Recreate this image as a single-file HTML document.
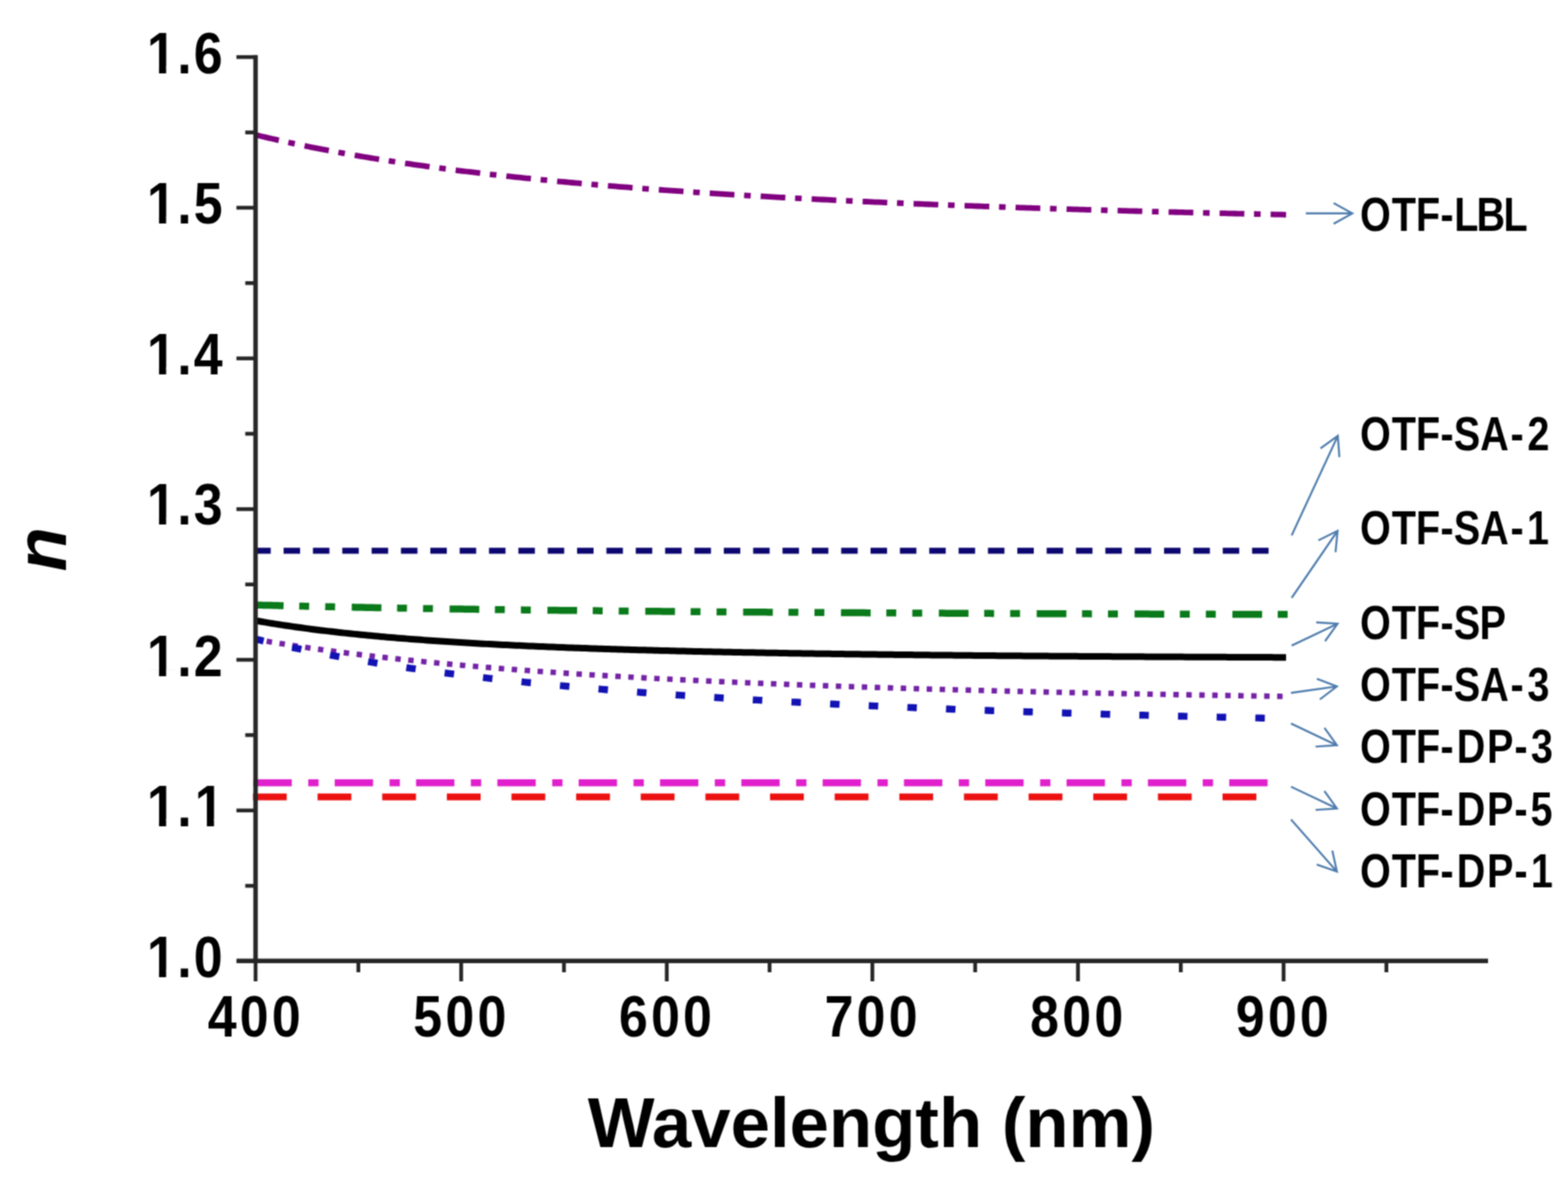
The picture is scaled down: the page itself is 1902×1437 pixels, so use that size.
<!DOCTYPE html>
<html><head><meta charset="utf-8"><title>Refractive index n versus wavelength</title>
<style>
html,body{margin:0;padding:0;background:#fff;}
svg{display:block;}
.tk{font-family:"Liberation Sans",Arial,sans-serif;font-weight:bold;font-size:70px;fill:#000;}
.ttl{font-family:"Liberation Sans",Arial,sans-serif;font-weight:bold;font-size:85.75px;fill:#000;}
.yt{font-family:"Liberation Sans",Arial,sans-serif;font-weight:bold;font-style:italic;font-size:88px;fill:#000;}
.lb{font-family:"Liberation Sans",Arial,sans-serif;font-weight:bold;font-size:56.5px;fill:#000;}
</style></head>
<body>
<svg width="1902" height="1437" viewBox="0 0 1902 1437">
<defs><filter id="soft" x="0" y="0" width="1" height="1" filterUnits="objectBoundingBox" color-interpolation-filters="sRGB"><feConvolveMatrix order="3" kernelMatrix="1 2 1 2 4 2 1 2 1" divisor="16" edgeMode="duplicate"/></filter></defs>
<rect width="1902" height="1437" fill="#fff"/>
<g filter="url(#soft)">
<rect width="1902" height="1437" fill="#fff"/>
<path d="M310.0,163.52 L314.0,164.49 L318.0,165.45 L322.0,166.40 L326.0,167.33 L330.0,168.26 L334.0,169.17 L338.0,170.08 L342.0,170.97 L346.0,171.85 L350.0,172.73 L354.0,173.59 L358.0,174.44 L362.0,175.28 L366.0,176.12 L370.0,176.94 L374.0,177.75 L378.0,178.56 L382.0,179.35 L386.0,180.14 L390.0,180.91 L394.0,181.68 L398.0,182.44 L402.0,183.19 L406.0,183.94 L410.0,184.67 L414.0,185.40 L418.0,186.12 L422.0,186.83 L426.0,187.53 L430.0,188.22 L434.0,188.91 L438.0,189.59 L442.0,190.27 L446.0,190.93 L450.0,191.59 L454.0,192.24 L458.0,192.89 L462.0,193.52 L466.0,194.16 L470.0,194.78 L474.0,195.40 L478.0,196.01 L482.0,196.61 L486.0,197.21 L490.0,197.81 L494.0,198.39 L498.0,198.97 L502.0,199.55 L506.0,200.12 L510.0,200.68 L514.0,201.24 L518.0,201.79 L522.0,202.34 L526.0,202.88 L530.0,203.41 L534.0,203.94 L538.0,204.47 L542.0,204.99 L546.0,205.50 L550.0,206.01 L554.0,206.52 L558.0,207.02 L562.0,207.51 L566.0,208.00 L570.0,208.49 L574.0,208.97 L578.0,209.44 L582.0,209.92 L586.0,210.38 L590.0,210.85 L594.0,211.30 L598.0,211.76 L602.0,212.21 L606.0,212.65 L610.0,213.09 L614.0,213.53 L618.0,213.96 L622.0,214.39 L626.0,214.82 L630.0,215.24 L634.0,215.66 L638.0,216.07 L642.0,216.48 L646.0,216.89 L650.0,217.29 L654.0,217.69 L658.0,218.08 L662.0,218.47 L666.0,218.86 L670.0,219.25 L674.0,219.63 L678.0,220.01 L682.0,220.38 L686.0,220.75 L690.0,221.12 L694.0,221.49 L698.0,221.85 L702.0,222.21 L706.0,222.56 L710.0,222.91 L714.0,223.26 L718.0,223.61 L722.0,223.95 L726.0,224.29 L730.0,224.63 L734.0,224.96 L738.0,225.30 L742.0,225.62 L746.0,225.95 L750.0,226.27 L754.0,226.59 L758.0,226.91 L762.0,227.23 L766.0,227.54 L770.0,227.85 L774.0,228.16 L778.0,228.46 L782.0,228.77 L786.0,229.07 L790.0,229.36 L794.0,229.66 L798.0,229.95 L802.0,230.24 L806.0,230.53 L810.0,230.82 L814.0,231.10 L818.0,231.38 L822.0,231.66 L826.0,231.94 L830.0,232.21 L834.0,232.48 L838.0,232.75 L842.0,233.02 L846.0,233.29 L850.0,233.55 L854.0,233.81 L858.0,234.07 L862.0,234.33 L866.0,234.58 L870.0,234.84 L874.0,235.09 L878.0,235.34 L882.0,235.59 L886.0,235.83 L890.0,236.08 L894.0,236.32 L898.0,236.56 L902.0,236.80 L906.0,237.04 L910.0,237.27 L914.0,237.50 L918.0,237.73 L922.0,237.96 L926.0,238.19 L930.0,238.42 L934.0,238.64 L938.0,238.87 L942.0,239.09 L946.0,239.31 L950.0,239.52 L954.0,239.74 L958.0,239.96 L962.0,240.17 L966.0,240.38 L970.0,240.59 L974.0,240.80 L978.0,241.01 L982.0,241.21 L986.0,241.42 L990.0,241.62 L994.0,241.82 L998.0,242.02 L1002.0,242.22 L1006.0,242.41 L1010.0,242.61 L1014.0,242.80 L1018.0,243.00 L1022.0,243.19 L1026.0,243.38 L1030.0,243.57 L1034.0,243.75 L1038.0,243.94 L1042.0,244.13 L1046.0,244.31 L1050.0,244.49 L1054.0,244.67 L1058.0,244.85 L1062.0,245.03 L1066.0,245.21 L1070.0,245.38 L1074.0,245.56 L1078.0,245.73 L1082.0,245.90 L1086.0,246.08 L1090.0,246.25 L1094.0,246.41 L1098.0,246.58 L1102.0,246.75 L1106.0,246.91 L1110.0,247.08 L1114.0,247.24 L1118.0,247.40 L1122.0,247.57 L1126.0,247.73 L1130.0,247.89 L1134.0,248.04 L1138.0,248.20 L1142.0,248.36 L1146.0,248.51 L1150.0,248.66 L1154.0,248.82 L1158.0,248.97 L1162.0,249.12 L1166.0,249.27 L1170.0,249.42 L1174.0,249.57 L1178.0,249.71 L1182.0,249.86 L1186.0,250.01 L1190.0,250.15 L1194.0,250.29 L1198.0,250.44 L1202.0,250.58 L1206.0,250.72 L1210.0,250.86 L1214.0,251.00 L1218.0,251.13 L1222.0,251.27 L1226.0,251.41 L1230.0,251.54 L1234.0,251.68 L1238.0,251.81 L1242.0,251.94 L1246.0,252.07 L1250.0,252.21 L1254.0,252.34 L1258.0,252.47 L1262.0,252.59 L1266.0,252.72 L1270.0,252.85 L1274.0,252.98 L1278.0,253.10 L1282.0,253.23 L1286.0,253.35 L1290.0,253.47 L1294.0,253.60 L1298.0,253.72 L1302.0,253.84 L1306.0,253.96 L1310.0,254.08 L1314.0,254.20 L1318.0,254.32 L1322.0,254.43 L1326.0,254.55 L1330.0,254.67 L1334.0,254.78 L1338.0,254.90 L1342.0,255.01 L1346.0,255.12 L1350.0,255.24 L1354.0,255.35 L1358.0,255.46 L1362.0,255.57 L1366.0,255.68 L1370.0,255.79 L1374.0,255.90 L1378.0,256.01 L1382.0,256.11 L1386.0,256.22 L1390.0,256.33 L1394.0,256.43 L1398.0,256.54 L1402.0,256.64 L1406.0,256.75 L1410.0,256.85 L1414.0,256.95 L1418.0,257.05 L1422.0,257.15 L1426.0,257.26 L1430.0,257.36 L1434.0,257.46 L1438.0,257.55 L1442.0,257.65 L1446.0,257.75 L1450.0,257.85 L1454.0,257.95 L1458.0,258.04 L1462.0,258.14 L1466.0,258.23 L1470.0,258.33 L1474.0,258.42 L1478.0,258.52 L1482.0,258.61 L1486.0,258.70 L1490.0,258.79 L1494.0,258.89 L1498.0,258.98 L1502.0,259.07 L1506.0,259.16 L1510.0,259.25 L1514.0,259.34 L1518.0,259.43 L1522.0,259.51 L1526.0,259.60 L1530.0,259.69 L1534.0,259.78 L1538.0,259.86 L1542.0,259.95 L1546.0,260.03 L1550.0,260.12 L1554.0,260.20 L1558.0,260.29 L1560.0,260.33" fill="none" stroke="#800080" stroke-width="6.8" stroke-linejoin="round" stroke-dasharray="30 11.8 8 12.1" stroke-dashoffset="1.0"/>
<path d="M308.4,667.80 L1539.0,667.80" fill="none" stroke="#0c0670" stroke-width="7.2" stroke-linejoin="round" stroke-dasharray="20 15.6" stroke-dashoffset="0"/>
<path d="M308.0,733.58 L312.0,733.69 L316.0,733.80 L320.0,733.90 L324.0,734.01 L328.0,734.11 L332.0,734.21 L336.0,734.31 L340.0,734.41 L344.0,734.51 L348.0,734.61 L352.0,734.70 L356.0,734.80 L360.0,734.89 L364.0,734.99 L368.0,735.08 L372.0,735.17 L376.0,735.26 L380.0,735.35 L384.0,735.44 L388.0,735.53 L392.0,735.62 L396.0,735.70 L400.0,735.79 L404.0,735.87 L408.0,735.96 L412.0,736.04 L416.0,736.12 L420.0,736.20 L424.0,736.28 L428.0,736.36 L432.0,736.44 L436.0,736.52 L440.0,736.60 L444.0,736.67 L448.0,736.75 L452.0,736.82 L456.0,736.90 L460.0,736.97 L464.0,737.05 L468.0,737.12 L472.0,737.19 L476.0,737.26 L480.0,737.33 L484.0,737.40 L488.0,737.47 L492.0,737.54 L496.0,737.61 L500.0,737.67 L504.0,737.74 L508.0,737.80 L512.0,737.87 L516.0,737.93 L520.0,738.00 L524.0,738.06 L528.0,738.12 L532.0,738.19 L536.0,738.25 L540.0,738.31 L544.0,738.37 L548.0,738.43 L552.0,738.49 L556.0,738.55 L560.0,738.61 L564.0,738.67 L568.0,738.72 L572.0,738.78 L576.0,738.84 L580.0,738.89 L584.0,738.95 L588.0,739.00 L592.0,739.06 L596.0,739.11 L600.0,739.16 L604.0,739.22 L608.0,739.27 L612.0,739.32 L616.0,739.37 L620.0,739.43 L624.0,739.48 L628.0,739.53 L632.0,739.58 L636.0,739.63 L640.0,739.68 L644.0,739.72 L648.0,739.77 L652.0,739.82 L656.0,739.87 L660.0,739.92 L664.0,739.96 L668.0,740.01 L672.0,740.05 L676.0,740.10 L680.0,740.14 L684.0,740.19 L688.0,740.23 L692.0,740.28 L696.0,740.32 L700.0,740.36 L704.0,740.41 L708.0,740.45 L712.0,740.49 L716.0,740.53 L720.0,740.58 L724.0,740.62 L728.0,740.66 L732.0,740.70 L736.0,740.74 L740.0,740.78 L744.0,740.82 L748.0,740.86 L752.0,740.90 L756.0,740.94 L760.0,740.97 L764.0,741.01 L768.0,741.05 L772.0,741.09 L776.0,741.13 L780.0,741.16 L784.0,741.20 L788.0,741.24 L792.0,741.27 L796.0,741.31 L800.0,741.34 L804.0,741.38 L808.0,741.41 L812.0,741.45 L816.0,741.48 L820.0,741.52 L824.0,741.55 L828.0,741.58 L832.0,741.62 L836.0,741.65 L840.0,741.68 L844.0,741.72 L848.0,741.75 L852.0,741.78 L856.0,741.81 L860.0,741.85 L864.0,741.88 L868.0,741.91 L872.0,741.94 L876.0,741.97 L880.0,742.00 L884.0,742.03 L888.0,742.06 L892.0,742.09 L896.0,742.12 L900.0,742.15 L904.0,742.18 L908.0,742.21 L912.0,742.24 L916.0,742.27 L920.0,742.29 L924.0,742.32 L928.0,742.35 L932.0,742.38 L936.0,742.41 L940.0,742.43 L944.0,742.46 L948.0,742.49 L952.0,742.51 L956.0,742.54 L960.0,742.57 L964.0,742.59 L968.0,742.62 L972.0,742.65 L976.0,742.67 L980.0,742.70 L984.0,742.72 L988.0,742.75 L992.0,742.77 L996.0,742.80 L1000.0,742.82 L1004.0,742.85 L1008.0,742.87 L1012.0,742.90 L1016.0,742.92 L1020.0,742.94 L1024.0,742.97 L1028.0,742.99 L1032.0,743.01 L1036.0,743.04 L1040.0,743.06 L1044.0,743.08 L1048.0,743.11 L1052.0,743.13 L1056.0,743.15 L1060.0,743.17 L1064.0,743.20 L1068.0,743.22 L1072.0,743.24 L1076.0,743.26 L1080.0,743.28 L1084.0,743.31 L1088.0,743.33 L1092.0,743.35 L1096.0,743.37 L1100.0,743.39 L1104.0,743.41 L1108.0,743.43 L1112.0,743.45 L1116.0,743.47 L1120.0,743.49 L1124.0,743.51 L1128.0,743.53 L1132.0,743.55 L1136.0,743.57 L1140.0,743.59 L1144.0,743.61 L1148.0,743.63 L1152.0,743.65 L1156.0,743.67 L1160.0,743.69 L1164.0,743.71 L1168.0,743.73 L1172.0,743.74 L1176.0,743.76 L1180.0,743.78 L1184.0,743.80 L1188.0,743.82 L1192.0,743.84 L1196.0,743.85 L1200.0,743.87 L1204.0,743.89 L1208.0,743.91 L1212.0,743.92 L1216.0,743.94 L1220.0,743.96 L1224.0,743.98 L1228.0,743.99 L1232.0,744.01 L1236.0,744.03 L1240.0,744.04 L1244.0,744.06 L1248.0,744.08 L1252.0,744.09 L1256.0,744.11 L1260.0,744.13 L1264.0,744.14 L1268.0,744.16 L1272.0,744.18 L1276.0,744.19 L1280.0,744.21 L1284.0,744.22 L1288.0,744.24 L1292.0,744.25 L1296.0,744.27 L1300.0,744.28 L1304.0,744.30 L1308.0,744.32 L1312.0,744.33 L1316.0,744.35 L1320.0,744.36 L1324.0,744.38 L1328.0,744.39 L1332.0,744.40 L1336.0,744.42 L1340.0,744.43 L1344.0,744.45 L1348.0,744.46 L1352.0,744.48 L1356.0,744.49 L1360.0,744.50 L1364.0,744.52 L1368.0,744.53 L1372.0,744.55 L1376.0,744.56 L1380.0,744.57 L1384.0,744.59 L1388.0,744.60 L1392.0,744.61 L1396.0,744.63 L1400.0,744.64 L1404.0,744.65 L1408.0,744.67 L1412.0,744.68 L1416.0,744.69 L1420.0,744.71 L1424.0,744.72 L1428.0,744.73 L1432.0,744.75 L1436.0,744.76 L1440.0,744.77 L1444.0,744.78 L1448.0,744.80 L1452.0,744.81 L1456.0,744.82 L1460.0,744.83 L1464.0,744.84 L1468.0,744.86 L1472.0,744.87 L1476.0,744.88 L1480.0,744.89 L1484.0,744.90 L1488.0,744.92 L1492.0,744.93 L1496.0,744.94 L1500.0,744.95 L1504.0,744.96 L1508.0,744.97 L1512.0,744.99 L1516.0,745.00 L1520.0,745.01 L1524.0,745.02 L1528.0,745.03 L1532.0,745.04 L1536.0,745.05 L1540.0,745.06 L1544.0,745.07 L1548.0,745.09 L1552.0,745.10 L1556.0,745.11 L1560.0,745.12 L1562.0,745.12" fill="none" stroke="#0a7a1a" stroke-width="8.5" stroke-linejoin="round" stroke-dasharray="36 19 12 19.5 12 20.2" stroke-dashoffset="0"/>
<path d="M310.0,752.61 L314.0,753.31 L318.0,754.00 L322.0,754.68 L326.0,755.34 L330.0,755.99 L334.0,756.63 L338.0,757.25 L342.0,757.87 L346.0,758.47 L350.0,759.06 L354.0,759.64 L358.0,760.21 L362.0,760.77 L366.0,761.32 L370.0,761.86 L374.0,762.39 L378.0,762.91 L382.0,763.42 L386.0,763.92 L390.0,764.41 L394.0,764.89 L398.0,765.37 L402.0,765.83 L406.0,766.29 L410.0,766.74 L414.0,767.19 L418.0,767.62 L422.0,768.05 L426.0,768.47 L430.0,768.88 L434.0,769.29 L438.0,769.69 L442.0,770.08 L446.0,770.46 L450.0,770.84 L454.0,771.21 L458.0,771.58 L462.0,771.94 L466.0,772.30 L470.0,772.64 L474.0,772.99 L478.0,773.32 L482.0,773.65 L486.0,773.98 L490.0,774.30 L494.0,774.62 L498.0,774.93 L502.0,775.23 L506.0,775.53 L510.0,775.83 L514.0,776.12 L518.0,776.41 L522.0,776.69 L526.0,776.97 L530.0,777.24 L534.0,777.51 L538.0,777.77 L542.0,778.04 L546.0,778.29 L550.0,778.54 L554.0,778.79 L558.0,779.04 L562.0,779.28 L566.0,779.52 L570.0,779.75 L574.0,779.98 L578.0,780.21 L582.0,780.43 L586.0,780.65 L590.0,780.87 L594.0,781.08 L598.0,781.29 L602.0,781.50 L606.0,781.71 L610.0,781.91 L614.0,782.11 L618.0,782.30 L622.0,782.50 L626.0,782.69 L630.0,782.87 L634.0,783.06 L638.0,783.24 L642.0,783.42 L646.0,783.60 L650.0,783.77 L654.0,783.94 L658.0,784.11 L662.0,784.28 L666.0,784.44 L670.0,784.61 L674.0,784.77 L678.0,784.92 L682.0,785.08 L686.0,785.23 L690.0,785.39 L694.0,785.54 L698.0,785.68 L702.0,785.83 L706.0,785.97 L710.0,786.11 L714.0,786.25 L718.0,786.39 L722.0,786.53 L726.0,786.66 L730.0,786.79 L734.0,786.92 L738.0,787.05 L742.0,787.18 L746.0,787.31 L750.0,787.43 L754.0,787.55 L758.0,787.67 L762.0,787.79 L766.0,787.91 L770.0,788.03 L774.0,788.14 L778.0,788.25 L782.0,788.36 L786.0,788.47 L790.0,788.58 L794.0,788.69 L798.0,788.80 L802.0,788.90 L806.0,789.01 L810.0,789.11 L814.0,789.21 L818.0,789.31 L822.0,789.41 L826.0,789.50 L830.0,789.60 L834.0,789.69 L838.0,789.79 L842.0,789.88 L846.0,789.97 L850.0,790.06 L854.0,790.15 L858.0,790.24 L862.0,790.33 L866.0,790.41 L870.0,790.50 L874.0,790.58 L878.0,790.66 L882.0,790.75 L886.0,790.83 L890.0,790.91 L894.0,790.99 L898.0,791.06 L902.0,791.14 L906.0,791.22 L910.0,791.29 L914.0,791.37 L918.0,791.44 L922.0,791.52 L926.0,791.59 L930.0,791.66 L934.0,791.73 L938.0,791.80 L942.0,791.87 L946.0,791.94 L950.0,792.00 L954.0,792.07 L958.0,792.13 L962.0,792.20 L966.0,792.26 L970.0,792.33 L974.0,792.39 L978.0,792.45 L982.0,792.51 L986.0,792.57 L990.0,792.64 L994.0,792.69 L998.0,792.75 L1002.0,792.81 L1006.0,792.87 L1010.0,792.93 L1014.0,792.98 L1018.0,793.04 L1022.0,793.09 L1026.0,793.15 L1030.0,793.20 L1034.0,793.25 L1038.0,793.31 L1042.0,793.36 L1046.0,793.41 L1050.0,793.46 L1054.0,793.51 L1058.0,793.56 L1062.0,793.61 L1066.0,793.66 L1070.0,793.71 L1074.0,793.76 L1078.0,793.81 L1082.0,793.85 L1086.0,793.90 L1090.0,793.94 L1094.0,793.99 L1098.0,794.04 L1102.0,794.08 L1106.0,794.12 L1110.0,794.17 L1114.0,794.21 L1118.0,794.25 L1122.0,794.30 L1126.0,794.34 L1130.0,794.38 L1134.0,794.42 L1138.0,794.46 L1142.0,794.50 L1146.0,794.54 L1150.0,794.58 L1154.0,794.62 L1158.0,794.66 L1162.0,794.70 L1166.0,794.74 L1170.0,794.77 L1174.0,794.81 L1178.0,794.85 L1182.0,794.88 L1186.0,794.92 L1190.0,794.96 L1194.0,794.99 L1198.0,795.03 L1202.0,795.06 L1206.0,795.10 L1210.0,795.13 L1214.0,795.16 L1218.0,795.20 L1222.0,795.23 L1226.0,795.26 L1230.0,795.30 L1234.0,795.33 L1238.0,795.36 L1242.0,795.39 L1246.0,795.42 L1250.0,795.45 L1254.0,795.48 L1258.0,795.51 L1262.0,795.54 L1266.0,795.57 L1270.0,795.60 L1274.0,795.63 L1278.0,795.66 L1282.0,795.69 L1286.0,795.72 L1290.0,795.75 L1294.0,795.78 L1298.0,795.80 L1302.0,795.83 L1306.0,795.86 L1310.0,795.89 L1314.0,795.91 L1318.0,795.94 L1322.0,795.96 L1326.0,795.99 L1330.0,796.02 L1334.0,796.04 L1338.0,796.07 L1342.0,796.09 L1346.0,796.12 L1350.0,796.14 L1354.0,796.17 L1358.0,796.19 L1362.0,796.22 L1366.0,796.24 L1370.0,796.26 L1374.0,796.29 L1378.0,796.31 L1382.0,796.33 L1386.0,796.36 L1390.0,796.38 L1394.0,796.40 L1398.0,796.42 L1402.0,796.44 L1406.0,796.47 L1410.0,796.49 L1414.0,796.51 L1418.0,796.53 L1422.0,796.55 L1426.0,796.57 L1430.0,796.59 L1434.0,796.61 L1438.0,796.63 L1442.0,796.66 L1446.0,796.68 L1450.0,796.70 L1454.0,796.71 L1458.0,796.73 L1462.0,796.75 L1466.0,796.77 L1470.0,796.79 L1474.0,796.81 L1478.0,796.83 L1482.0,796.85 L1486.0,796.87 L1490.0,796.89 L1494.0,796.90 L1498.0,796.92 L1502.0,796.94 L1506.0,796.96 L1510.0,796.97 L1514.0,796.99 L1518.0,797.01 L1522.0,797.03 L1526.0,797.04 L1530.0,797.06 L1534.0,797.08 L1538.0,797.09 L1542.0,797.11 L1546.0,797.13 L1550.0,797.14 L1554.0,797.16 L1558.0,797.18 L1560.0,797.18" fill="none" stroke="#000" stroke-width="8" stroke-linejoin="round"/>
<path d="M311.0,775.45 L315.0,776.14 L319.0,776.83 L323.0,777.51 L327.0,778.19 L331.0,778.85 L335.0,779.51 L339.0,780.15 L343.0,780.79 L347.0,781.43 L351.0,782.05 L355.0,782.67 L359.0,783.28 L363.0,783.89 L367.0,784.48 L371.0,785.07 L375.0,785.65 L379.0,786.23 L383.0,786.80 L387.0,787.36 L391.0,787.92 L395.0,788.47 L399.0,789.01 L403.0,789.55 L407.0,790.08 L411.0,790.61 L415.0,791.13 L419.0,791.64 L423.0,792.15 L427.0,792.66 L431.0,793.15 L435.0,793.64 L439.0,794.13 L443.0,794.61 L447.0,795.09 L451.0,795.56 L455.0,796.03 L459.0,796.49 L463.0,796.94 L467.0,797.40 L471.0,797.84 L475.0,798.28 L479.0,798.72 L483.0,799.15 L487.0,799.58 L491.0,800.01 L495.0,800.43 L499.0,800.84 L503.0,801.25 L507.0,801.66 L511.0,802.06 L515.0,802.46 L519.0,802.85 L523.0,803.24 L527.0,803.63 L531.0,804.01 L535.0,804.39 L539.0,804.77 L543.0,805.14 L547.0,805.50 L551.0,805.87 L555.0,806.23 L559.0,806.59 L563.0,806.94 L567.0,807.29 L571.0,807.63 L575.0,807.98 L579.0,808.32 L583.0,808.65 L587.0,808.99 L591.0,809.32 L595.0,809.64 L599.0,809.97 L603.0,810.29 L607.0,810.61 L611.0,810.92 L615.0,811.23 L619.0,811.54 L623.0,811.85 L627.0,812.15 L631.0,812.45 L635.0,812.75 L639.0,813.05 L643.0,813.34 L647.0,813.63 L651.0,813.91 L655.0,814.20 L659.0,814.48 L663.0,814.76 L667.0,815.04 L671.0,815.31 L675.0,815.58 L679.0,815.85 L683.0,816.12 L687.0,816.38 L691.0,816.65 L695.0,816.91 L699.0,817.16 L703.0,817.42 L707.0,817.67 L711.0,817.92 L715.0,818.17 L719.0,818.42 L723.0,818.66 L727.0,818.91 L731.0,819.15 L735.0,819.39 L739.0,819.62 L743.0,819.86 L747.0,820.09 L751.0,820.32 L755.0,820.55 L759.0,820.77 L763.0,821.00 L767.0,821.22 L771.0,821.44 L775.0,821.66 L779.0,821.88 L783.0,822.09 L787.0,822.31 L791.0,822.52 L795.0,822.73 L799.0,822.94 L803.0,823.14 L807.0,823.35 L811.0,823.55 L815.0,823.75 L819.0,823.95 L823.0,824.15 L827.0,824.35 L831.0,824.55 L835.0,824.74 L839.0,824.93 L843.0,825.12 L847.0,825.31 L851.0,825.50 L855.0,825.68 L859.0,825.87 L863.0,826.05 L867.0,826.24 L871.0,826.42 L875.0,826.59 L879.0,826.77 L883.0,826.95 L887.0,827.12 L891.0,827.30 L895.0,827.47 L899.0,827.64 L903.0,827.81 L907.0,827.98 L911.0,828.15 L915.0,828.31 L919.0,828.48 L923.0,828.64 L927.0,828.80 L931.0,828.96 L935.0,829.12 L939.0,829.28 L943.0,829.44 L947.0,829.59 L951.0,829.75 L955.0,829.90 L959.0,830.06 L963.0,830.21 L967.0,830.36 L971.0,830.51 L975.0,830.66 L979.0,830.80 L983.0,830.95 L987.0,831.09 L991.0,831.24 L995.0,831.38 L999.0,831.52 L1003.0,831.66 L1007.0,831.80 L1011.0,831.94 L1015.0,832.08 L1019.0,832.22 L1023.0,832.35 L1027.0,832.49 L1031.0,832.62 L1035.0,832.76 L1039.0,832.89 L1043.0,833.02 L1047.0,833.15 L1051.0,833.28 L1055.0,833.41 L1059.0,833.54 L1063.0,833.66 L1067.0,833.79 L1071.0,833.91 L1075.0,834.04 L1079.0,834.16 L1083.0,834.29 L1087.0,834.41 L1091.0,834.53 L1095.0,834.65 L1099.0,834.77 L1103.0,834.89 L1107.0,835.00 L1111.0,835.12 L1115.0,835.24 L1119.0,835.35 L1123.0,835.47 L1127.0,835.58 L1131.0,835.69 L1135.0,835.80 L1139.0,835.92 L1143.0,836.03 L1147.0,836.14 L1151.0,836.25 L1155.0,836.35 L1159.0,836.46 L1163.0,836.57 L1167.0,836.68 L1171.0,836.78 L1175.0,836.89 L1179.0,836.99 L1183.0,837.10 L1187.0,837.20 L1191.0,837.30 L1195.0,837.40 L1199.0,837.50 L1203.0,837.60 L1207.0,837.70 L1211.0,837.80 L1215.0,837.90 L1219.0,838.00 L1223.0,838.10 L1227.0,838.19 L1231.0,838.29 L1235.0,838.39 L1239.0,838.48 L1243.0,838.57 L1247.0,838.67 L1251.0,838.76 L1255.0,838.85 L1259.0,838.95 L1263.0,839.04 L1267.0,839.13 L1271.0,839.22 L1275.0,839.31 L1279.0,839.40 L1283.0,839.49 L1287.0,839.57 L1291.0,839.66 L1295.0,839.75 L1299.0,839.83 L1303.0,839.92 L1307.0,840.01 L1311.0,840.09 L1315.0,840.18 L1319.0,840.26 L1323.0,840.34 L1327.0,840.43 L1331.0,840.51 L1335.0,840.59 L1339.0,840.67 L1343.0,840.75 L1347.0,840.83 L1351.0,840.91 L1355.0,840.99 L1359.0,841.07 L1363.0,841.15 L1367.0,841.23 L1371.0,841.31 L1375.0,841.38 L1379.0,841.46 L1383.0,841.54 L1387.0,841.61 L1391.0,841.69 L1395.0,841.76 L1399.0,841.84 L1403.0,841.91 L1407.0,841.98 L1411.0,842.06 L1415.0,842.13 L1419.0,842.20 L1423.0,842.27 L1427.0,842.35 L1431.0,842.42 L1435.0,842.49 L1439.0,842.56 L1443.0,842.63 L1447.0,842.70 L1451.0,842.77 L1455.0,842.84 L1459.0,842.90 L1463.0,842.97 L1467.0,843.04 L1471.0,843.11 L1475.0,843.17 L1479.0,843.24 L1483.0,843.31 L1487.0,843.37 L1491.0,843.44 L1495.0,843.50 L1499.0,843.57 L1503.0,843.63 L1507.0,843.70 L1511.0,843.76 L1515.0,843.82 L1519.0,843.89 L1523.0,843.95 L1527.0,844.01 L1531.0,844.07 L1535.0,844.13 L1539.0,844.20 L1543.0,844.26 L1547.0,844.32 L1551.0,844.38 L1555.0,844.44 L1556.0,844.45" fill="none" stroke="#7322a6" stroke-width="6.6" stroke-linejoin="round" stroke-dasharray="6.6 9.15" stroke-dashoffset="3.1"/>
<path d="M310.0,774.98 L314.0,775.95 L318.0,776.91 L322.0,777.85 L326.0,778.79 L330.0,779.71 L334.0,780.62 L338.0,781.52 L342.0,782.41 L346.0,783.29 L350.0,784.16 L354.0,785.02 L358.0,785.87 L362.0,786.71 L366.0,787.54 L370.0,788.36 L374.0,789.17 L378.0,789.98 L382.0,790.77 L386.0,791.55 L390.0,792.33 L394.0,793.09 L398.0,793.85 L402.0,794.60 L406.0,795.34 L410.0,796.07 L414.0,796.79 L418.0,797.51 L422.0,798.22 L426.0,798.92 L430.0,799.61 L434.0,800.30 L438.0,800.98 L442.0,801.65 L446.0,802.31 L450.0,802.97 L454.0,803.62 L458.0,804.26 L462.0,804.89 L466.0,805.52 L470.0,806.15 L474.0,806.76 L478.0,807.37 L482.0,807.97 L486.0,808.57 L490.0,809.16 L494.0,809.75 L498.0,810.32 L502.0,810.90 L506.0,811.46 L510.0,812.02 L514.0,812.58 L518.0,813.13 L522.0,813.67 L526.0,814.21 L530.0,814.75 L534.0,815.27 L538.0,815.80 L542.0,816.31 L546.0,816.83 L550.0,817.34 L554.0,817.84 L558.0,818.34 L562.0,818.83 L566.0,819.32 L570.0,819.80 L574.0,820.28 L578.0,820.75 L582.0,821.22 L586.0,821.69 L590.0,822.15 L594.0,822.60 L598.0,823.06 L602.0,823.50 L606.0,823.95 L610.0,824.39 L614.0,824.82 L618.0,825.25 L622.0,825.68 L626.0,826.11 L630.0,826.52 L634.0,826.94 L638.0,827.35 L642.0,827.76 L646.0,828.16 L650.0,828.57 L654.0,828.96 L658.0,829.36 L662.0,829.75 L666.0,830.13 L670.0,830.52 L674.0,830.89 L678.0,831.27 L682.0,831.64 L686.0,832.01 L690.0,832.38 L694.0,832.74 L698.0,833.10 L702.0,833.46 L706.0,833.81 L710.0,834.16 L714.0,834.51 L718.0,834.86 L722.0,835.20 L726.0,835.54 L730.0,835.87 L734.0,836.21 L738.0,836.54 L742.0,836.86 L746.0,837.19 L750.0,837.51 L754.0,837.83 L758.0,838.15 L762.0,838.46 L766.0,838.77 L770.0,839.08 L774.0,839.39 L778.0,839.69 L782.0,839.99 L786.0,840.29 L790.0,840.58 L794.0,840.88 L798.0,841.17 L802.0,841.46 L806.0,841.75 L810.0,842.03 L814.0,842.31 L818.0,842.59 L822.0,842.87 L826.0,843.14 L830.0,843.42 L834.0,843.69 L838.0,843.96 L842.0,844.22 L846.0,844.49 L850.0,844.75 L854.0,845.01 L858.0,845.27 L862.0,845.53 L866.0,845.78 L870.0,846.03 L874.0,846.28 L878.0,846.53 L882.0,846.78 L886.0,847.02 L890.0,847.27 L894.0,847.51 L898.0,847.75 L902.0,847.98 L906.0,848.22 L910.0,848.45 L914.0,848.69 L918.0,848.92 L922.0,849.14 L926.0,849.37 L930.0,849.60 L934.0,849.82 L938.0,850.04 L942.0,850.26 L946.0,850.48 L950.0,850.70 L954.0,850.91 L958.0,851.13 L962.0,851.34 L966.0,851.55 L970.0,851.76 L974.0,851.96 L978.0,852.17 L982.0,852.38 L986.0,852.58 L990.0,852.78 L994.0,852.98 L998.0,853.18 L1002.0,853.38 L1006.0,853.57 L1010.0,853.77 L1014.0,853.96 L1018.0,854.15 L1022.0,854.34 L1026.0,854.53 L1030.0,854.72 L1034.0,854.91 L1038.0,855.09 L1042.0,855.27 L1046.0,855.46 L1050.0,855.64 L1054.0,855.82 L1058.0,856.00 L1062.0,856.17 L1066.0,856.35 L1070.0,856.53 L1074.0,856.70 L1078.0,856.87 L1082.0,857.04 L1086.0,857.21 L1090.0,857.38 L1094.0,857.55 L1098.0,857.72 L1102.0,857.88 L1106.0,858.05 L1110.0,858.21 L1114.0,858.37 L1118.0,858.54 L1122.0,858.70 L1126.0,858.86 L1130.0,859.01 L1134.0,859.17 L1138.0,859.33 L1142.0,859.48 L1146.0,859.64 L1150.0,859.79 L1154.0,859.94 L1158.0,860.09 L1162.0,860.24 L1166.0,860.39 L1170.0,860.54 L1174.0,860.69 L1178.0,860.83 L1182.0,860.98 L1186.0,861.12 L1190.0,861.27 L1194.0,861.41 L1198.0,861.55 L1202.0,861.69 L1206.0,861.83 L1210.0,861.97 L1214.0,862.11 L1218.0,862.24 L1222.0,862.38 L1226.0,862.52 L1230.0,862.65 L1234.0,862.78 L1238.0,862.92 L1242.0,863.05 L1246.0,863.18 L1250.0,863.31 L1254.0,863.44 L1258.0,863.57 L1262.0,863.70 L1266.0,863.82 L1270.0,863.95 L1274.0,864.08 L1278.0,864.20 L1282.0,864.33 L1286.0,864.45 L1290.0,864.57 L1294.0,864.69 L1298.0,864.81 L1302.0,864.94 L1306.0,865.05 L1310.0,865.17 L1314.0,865.29 L1318.0,865.41 L1322.0,865.53 L1326.0,865.64 L1330.0,865.76 L1334.0,865.87 L1338.0,865.99 L1342.0,866.10 L1346.0,866.21 L1350.0,866.32 L1354.0,866.44 L1358.0,866.55 L1362.0,866.66 L1366.0,866.77 L1370.0,866.88 L1374.0,866.98 L1378.0,867.09 L1382.0,867.20 L1386.0,867.30 L1390.0,867.41 L1394.0,867.51 L1398.0,867.62 L1402.0,867.72 L1406.0,867.83 L1410.0,867.93 L1414.0,868.03 L1418.0,868.13 L1422.0,868.23 L1426.0,868.33 L1430.0,868.43 L1434.0,868.53 L1438.0,868.63 L1442.0,868.73 L1446.0,868.83 L1450.0,868.92 L1454.0,869.02 L1458.0,869.12 L1462.0,869.21 L1466.0,869.31 L1470.0,869.40 L1474.0,869.49 L1478.0,869.59 L1482.0,869.68 L1486.0,869.77 L1490.0,869.86 L1494.0,869.95 L1498.0,870.05 L1502.0,870.14 L1506.0,870.23 L1510.0,870.31 L1514.0,870.40 L1518.0,870.49 L1522.0,870.58 L1526.0,870.67 L1530.0,870.75 L1534.0,870.84 L1536.0,870.88" fill="none" stroke="#1212b4" stroke-width="8.4" stroke-linejoin="round" stroke-dasharray="11.5 35.42" stroke-dashoffset="1.5"/>
<path d="M307.4,949.20 L1539.0,949.20" fill="none" stroke="#e020cc" stroke-width="8.4" stroke-linejoin="round" stroke-dasharray="46.5 20 12.5 19.64" stroke-dashoffset="0"/>
<path d="M306.8,966.40 L1524.5,966.40" fill="none" stroke="#ec1010" stroke-width="8.4" stroke-linejoin="round" stroke-dasharray="41 37.41" stroke-dashoffset="0"/>
<line x1="310" y1="66.8" x2="310" y2="1168" stroke="#262626" stroke-width="5.4"/>
<line x1="287" y1="1165.3" x2="1805" y2="1165.3" stroke="#262626" stroke-width="5.4"/>
<line x1="286.8" y1="1165.5" x2="310" y2="1165.5" stroke="#262626" stroke-width="4.6"/>
<line x1="286.8" y1="982.8" x2="310" y2="982.8" stroke="#262626" stroke-width="4.6"/>
<line x1="286.8" y1="800.1" x2="310" y2="800.1" stroke="#262626" stroke-width="4.6"/>
<line x1="286.8" y1="617.4" x2="310" y2="617.4" stroke="#262626" stroke-width="4.6"/>
<line x1="286.8" y1="434.6" x2="310" y2="434.6" stroke="#262626" stroke-width="4.6"/>
<line x1="286.8" y1="251.9" x2="310" y2="251.9" stroke="#262626" stroke-width="4.6"/>
<line x1="286.8" y1="69.2" x2="310" y2="69.2" stroke="#262626" stroke-width="4.6"/>
<line x1="297.5" y1="1074.2" x2="310" y2="1074.2" stroke="#262626" stroke-width="4.6"/>
<line x1="297.5" y1="891.4" x2="310" y2="891.4" stroke="#262626" stroke-width="4.6"/>
<line x1="297.5" y1="708.7" x2="310" y2="708.7" stroke="#262626" stroke-width="4.6"/>
<line x1="297.5" y1="526.0" x2="310" y2="526.0" stroke="#262626" stroke-width="4.6"/>
<line x1="297.5" y1="343.3" x2="310" y2="343.3" stroke="#262626" stroke-width="4.6"/>
<line x1="297.5" y1="160.6" x2="310" y2="160.6" stroke="#262626" stroke-width="4.6"/>
<line x1="310.0" y1="1165" x2="310.0" y2="1190" stroke="#262626" stroke-width="4.6"/>
<line x1="559.4" y1="1165" x2="559.4" y2="1190" stroke="#262626" stroke-width="4.6"/>
<line x1="808.8" y1="1165" x2="808.8" y2="1190" stroke="#262626" stroke-width="4.6"/>
<line x1="1058.2" y1="1165" x2="1058.2" y2="1190" stroke="#262626" stroke-width="4.6"/>
<line x1="1307.6" y1="1165" x2="1307.6" y2="1190" stroke="#262626" stroke-width="4.6"/>
<line x1="1557.0" y1="1165" x2="1557.0" y2="1190" stroke="#262626" stroke-width="4.6"/>
<line x1="434.7" y1="1165" x2="434.7" y2="1179" stroke="#262626" stroke-width="4.6"/>
<line x1="684.1" y1="1165" x2="684.1" y2="1179" stroke="#262626" stroke-width="4.6"/>
<line x1="933.5" y1="1165" x2="933.5" y2="1179" stroke="#262626" stroke-width="4.6"/>
<line x1="1182.9" y1="1165" x2="1182.9" y2="1179" stroke="#262626" stroke-width="4.6"/>
<line x1="1432.3" y1="1165" x2="1432.3" y2="1179" stroke="#262626" stroke-width="4.6"/>
<line x1="1681.7" y1="1165" x2="1681.7" y2="1179" stroke="#262626" stroke-width="4.6"/>
<path d="M1584.0,258.8 L1640.4,258.8 M1617.7,271.4 L1640.4,258.8 L1617.7,246.2" fill="none" stroke="#4e7cad" stroke-width="2.4" stroke-linecap="butt" stroke-linejoin="miter"/>
<path d="M1566.8,649.2 L1622.8,528.5 M1624.7,554.4 L1622.8,528.5 L1601.8,543.8" fill="none" stroke="#4e7cad" stroke-width="2.4" stroke-linecap="butt" stroke-linejoin="miter"/>
<path d="M1566.8,725.0 L1622.5,643.7 M1620.0,669.6 L1622.5,643.7 L1599.2,655.3" fill="none" stroke="#4e7cad" stroke-width="2.4" stroke-linecap="butt" stroke-linejoin="miter"/>
<path d="M1566.8,782.8 L1622.5,756.4 M1607.3,777.5 L1622.5,756.4 L1596.6,754.7" fill="none" stroke="#4e7cad" stroke-width="2.4" stroke-linecap="butt" stroke-linejoin="miter"/>
<path d="M1566.0,840.3 L1621.7,832.4 M1601.0,848.1 L1621.7,832.4 L1597.4,823.1" fill="none" stroke="#4e7cad" stroke-width="2.4" stroke-linecap="butt" stroke-linejoin="miter"/>
<path d="M1566.0,877.3 L1621.7,903.8 M1595.8,905.4 L1621.7,903.8 L1606.6,882.6" fill="none" stroke="#4e7cad" stroke-width="2.4" stroke-linecap="butt" stroke-linejoin="miter"/>
<path d="M1566.0,954.0 L1621.7,980.4 M1595.8,982.1 L1621.7,980.4 L1606.5,959.3" fill="none" stroke="#4e7cad" stroke-width="2.4" stroke-linecap="butt" stroke-linejoin="miter"/>
<path d="M1566.0,993.7 L1621.7,1057.0 M1597.2,1048.3 L1621.7,1057.0 L1616.1,1031.6" fill="none" stroke="#4e7cad" stroke-width="2.4" stroke-linecap="butt" stroke-linejoin="miter"/>
<text x="197.97 238.98 261.20" y="88.7" class="tk" transform="scale(0.9,1)">1.6</text>
<text x="197.97 238.98 261.20" y="271.2" class="tk" transform="scale(0.9,1)">1.5</text>
<text x="197.97 238.98 261.20" y="453.8" class="tk" transform="scale(0.9,1)">1.4</text>
<text x="197.97 238.98 261.20" y="636.2" class="tk" transform="scale(0.9,1)">1.3</text>
<text x="197.97 238.98 261.20" y="820.4" class="tk" transform="scale(0.9,1)">1.2</text>
<text x="197.97 238.98 262.47" y="1001.6" class="tk" transform="scale(0.9,1)">1.1</text>
<text x="197.97 238.98 261.20" y="1184.6" class="tk" transform="scale(0.9,1)">1.0</text>
<text x="279.95 323.20 366.46" y="1257" class="tk" transform="scale(0.9,1)">400</text>
<text x="557.06 600.31 643.57" y="1257" class="tk" transform="scale(0.9,1)">500</text>
<text x="834.17 877.42 920.68" y="1257" class="tk" transform="scale(0.9,1)">600</text>
<text x="1111.28 1154.53 1197.79" y="1257" class="tk" transform="scale(0.9,1)">700</text>
<text x="1388.39 1431.65 1474.90" y="1257" class="tk" transform="scale(0.9,1)">800</text>
<text x="1665.50 1708.76 1752.01" y="1257" class="tk" transform="scale(0.9,1)">900</text>
<text x="713.0" y="1391" class="ttl" textLength="688" lengthAdjust="spacingAndGlyphs">Wavelength (nm)</text>
<text transform="translate(80,693) rotate(-90)" class="yt">n</text>
<text x="1940.88 1986.08 2020.65 2055.56 2075.19 2106.99 2145.55" y="280.0" class="lb" transform="scale(0.85,1)">OTF-LBL</text>
<text x="1940.88 1986.08 2020.65 2055.56 2074.86 2112.46 2155.62 2179.62" y="545.8" class="lb" transform="scale(0.85,1)">OTF-SA-2</text>
<text x="1940.88 1986.08 2020.65 2055.56 2074.86 2112.46 2155.62 2179.18" y="660.5" class="lb" transform="scale(0.85,1)">OTF-SA-1</text>
<text x="1940.88 1986.08 2020.65 2055.56 2074.86 2111.53" y="775.0" class="lb" transform="scale(0.85,1)">OTF-SP</text>
<text x="1940.88 1986.08 2020.65 2055.56 2074.86 2112.46 2155.62 2179.84" y="850.5" class="lb" transform="scale(0.85,1)">OTF-SA-3</text>
<text x="1940.88 1986.08 2020.65 2055.56 2078.78 2121.94 2161.21 2184.66" y="925.5" class="lb" transform="scale(0.85,1)">OTF-DP-3</text>
<text x="1940.88 1986.08 2020.65 2055.56 2078.78 2121.94 2161.21 2184.21" y="1000.8" class="lb" transform="scale(0.85,1)">OTF-DP-5</text>
<text x="1940.88 1986.08 2020.65 2055.56 2078.78 2121.94 2161.21 2184.82" y="1075.8" class="lb" transform="scale(0.85,1)">OTF-DP-1</text>
<rect x="180.94" y="80.46" width="11.94" height="9.64" fill="#fff"/>
<rect x="201.52" y="80.46" width="11.14" height="9.64" fill="#fff"/>
<rect x="180.94" y="262.96" width="11.94" height="9.64" fill="#fff"/>
<rect x="201.52" y="262.96" width="11.14" height="9.64" fill="#fff"/>
<rect x="180.94" y="445.56" width="11.94" height="9.64" fill="#fff"/>
<rect x="201.52" y="445.56" width="11.14" height="9.64" fill="#fff"/>
<rect x="180.94" y="627.96" width="11.94" height="9.64" fill="#fff"/>
<rect x="201.52" y="627.96" width="11.14" height="9.64" fill="#fff"/>
<rect x="180.94" y="812.16" width="11.94" height="9.64" fill="#fff"/>
<rect x="201.52" y="812.16" width="11.14" height="9.64" fill="#fff"/>
<rect x="180.94" y="993.36" width="11.94" height="9.64" fill="#fff"/>
<rect x="201.52" y="993.36" width="11.14" height="9.64" fill="#fff"/>
<rect x="238.99" y="993.36" width="11.94" height="9.64" fill="#fff"/>
<rect x="259.57" y="993.36" width="11.14" height="9.64" fill="#fff"/>
<rect x="180.94" y="1176.36" width="11.94" height="9.64" fill="#fff"/>
<rect x="201.52" y="1176.36" width="11.14" height="9.64" fill="#fff"/>
</g>
</svg>
</body></html>
